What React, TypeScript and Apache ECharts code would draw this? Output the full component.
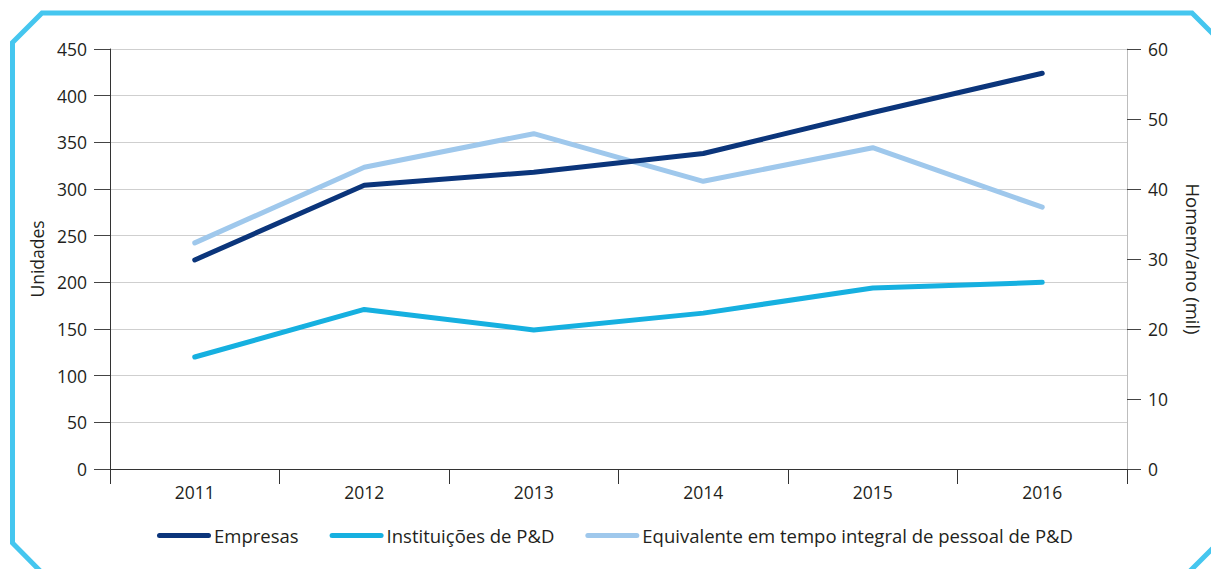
import React, { useEffect, useRef } from "react";
import * as echarts from "echarts";

const years = ["2011", "2012", "2013", "2014", "2015", "2016"];
const empresas = [224, 304, 318, 338, 382, 424];
const instituicoes = [120, 171, 149, 167, 194, 200];
const equivalente = [32.3, 43.1, 47.9, 41.1, 45.9, 37.4];

const seriesNames = [
  "Empresas",
  "Instituições de P&D",
  "Equivalente em tempo integral de pessoal de P&D",
];
const colors = ["#0b357b", "#16b0e0", "#9fc8ec"];

const FONT = "'Open Sans', 'Noto Sans', sans-serif";
const TXT = "#231f20";

export default function App() {
  const ref = useRef<HTMLDivElement>(null);
  useEffect(() => {
    if (!ref.current) return;
    const chart = echarts.init(ref.current, null, { renderer: "svg" });
    const capsule =
      "path://M2.5,0 H51.5 A2.5,2.5 0 0 1 51.5,5 H2.5 A2.5,2.5 0 0 1 2.5,0 Z";
    chart.setOption({
      animation: false,
      textStyle: { fontFamily: FONT, color: TXT },
      grid: { left: 110, right: 79, top: 49, bottom: 100, containLabel: false },
      legend: {
        top: 521,
        left: 152,
        icon: capsule,
        itemWidth: 54,
        itemHeight: 5,
        itemGap: 31,
        textStyle: { fontFamily: FONT, fontSize: 18.5, color: TXT, padding: [0, 0, 0, -2] },
        data: seriesNames,
      },
      xAxis: {
        type: "category",
        data: years,
        boundaryGap: true,
        axisLine: { lineStyle: { color: "#333", width: 1 } },
        axisTick: { show: true, length: 15, lineStyle: { color: "#333" } },
        axisLabel: { fontFamily: FONT, fontSize: 17.5, color: TXT, margin: 14 },
        splitLine: { show: false },
      },
      yAxis: [
        {
          type: "value",
          min: 0,
          max: 450,
          interval: 50,
          name: "Unidades",
          nameLocation: "middle",
          nameRotate: 90,
          nameGap: 64,
          nameTextStyle: { fontFamily: FONT, fontSize: 17.5, color: TXT },
          axisLine: { show: true, lineStyle: { color: "#333" } },
          axisTick: { show: true, length: 16, lineStyle: { color: "#444" } },
          axisLabel: { fontFamily: FONT, fontSize: 17.5, color: TXT, margin: 23 },
          splitLine: { show: true, lineStyle: { color: "#cfcfcf", width: 1 } },
        },
        {
          type: "value",
          min: 0,
          max: 60,
          interval: 10,
          position: "right",
          name: "Homem/ano (mil)",
          nameLocation: "middle",
          nameRotate: -90,
          nameGap: 57,
          nameTextStyle: { fontFamily: FONT, fontSize: 18.5, color: TXT },
          axisLine: { show: true, lineStyle: { color: "#bdbdbd" } },
          axisTick: { show: true, length: 14, lineStyle: { color: "#444" } },
          axisLabel: { fontFamily: FONT, fontSize: 17.5, color: TXT, margin: 21 },
          splitLine: { show: false },
        },
      ],
      series: [
        {
          name: seriesNames[0],
          type: "line",
          data: empresas,
          yAxisIndex: 0,
          symbol: "none",
          itemStyle: { color: colors[0] },
          lineStyle: { color: colors[0], width: 5, cap: "round" },
          z: 4,
        },
        {
          name: seriesNames[1],
          type: "line",
          data: instituicoes,
          yAxisIndex: 0,
          symbol: "none",
          itemStyle: { color: colors[1] },
          lineStyle: { color: colors[1], width: 5, cap: "round" },
          z: 3,
        },
        {
          name: seriesNames[2],
          type: "line",
          data: equivalente,
          yAxisIndex: 1,
          symbol: "none",
          itemStyle: { color: colors[2] },
          lineStyle: { color: colors[2], width: 5, cap: "round" },
          z: 2,
        },
      ],
      graphic: [
        {
          type: "polygon",
          silent: true,
          shape: {
            points: [
              [42, 13],
              [1192, 13],
              [1235, 56],
              [1235, 526],
              [1171, 590],
              [59, 590],
              [12.5, 543],
              [12.5, 42.5],
            ],
          },
          style: { fill: "none", stroke: "#45c6ef", lineWidth: 5 },
        },
      ],
    });
    return () => chart.dispose();
  }, []);
  return (
    <div
      ref={ref}
      style={{ position: "fixed", left: 0, top: 0, width: 1211, height: 569, background: "#fff" }}
    />
  );
}
